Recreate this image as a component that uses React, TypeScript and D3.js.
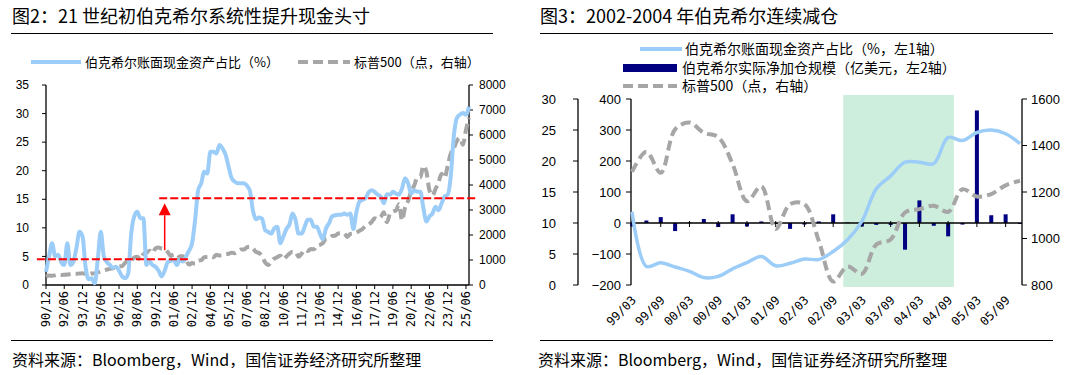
import React from "react";
import * as d3 from "d3";

// ---------- Figure 2 data (quarterly, 1990/12 .. 2025/09) ----------
const leftTickLabels = ["90/12","92/06","93/12","95/06","96/12","98/06","99/12","01/06","02/12","04/06","05/12","07/06","08/12","10/06","11/12","13/06","14/12","16/06","17/12","19/06","20/12","22/06","23/12","25/06"];
const brkCashRatio = [
  2.3,5.0,7.3,5.0,5.3,4.0,3.5,7.3,3.5,4.1,
  6.5,9.3,8.5,3.2,1.0,1.2,0.3,4.4,9.3,5.0,
  4.0,3.5,3.0,3.2,2.5,1.5,1.2,2.0,9.0,12.0,
  12.8,11.7,11.7,3.5,4.1,3.5,3.2,2.5,1.5,2.5,
  4.0,4.2,4.4,3.5,4.4,4.1,5.0,6.0,7.3,11.4,
  16.6,17.8,19.8,19.5,23.3,23.3,23.0,24.5,23.9,22.8,
  20.7,18.7,18.1,17.8,17.8,17.8,17.4,16.5,13.0,11.5,
  11.8,11.6,9.6,9.3,9.0,9.9,10.2,7.3,8.5,9.8,
  10.6,12.5,11.4,9.0,9.0,10.2,11.4,11.4,10.2,10.2,
  9.0,8.0,9.9,10.8,12.0,12.2,12.3,12.3,12.5,12.3,
  12.5,9.8,12.8,14.6,14.9,15.2,16.2,16.6,16.3,15.8,
  15.5,14.3,15.9,15.8,16.3,16.0,15.8,16.9,18.7,17.8,
  16.0,16.6,16.3,16.3,13.5,11.1,12.0,12.5,13.7,13.1,
  14.3,15.5,15.8,19.0,26.0,29.2,29.8,30.1,29.8,31.2
];
const spxQuarterly = [
  330.2,
  375.2,371.2,387.9,417.1, 403.7,408.1,417.8,435.7, 451.7,450.5,458.9,466.5, 445.8,444.3,462.7,459.3,
  500.7,544.8,584.4,615.9, 645.5,670.6,687.3,740.7, 757.1,885.1,947.3,970.4, 1101.8,1133.8,1017.0,1229.2,
  1286.4,1372.7,1282.7,1469.3, 1498.6,1454.6,1436.5,1320.3, 1160.3,1224.4,1040.9,1148.1, 1147.4,989.8,815.3,879.8,
  848.2,974.5,996.0,1111.9, 1126.2,1140.8,1114.6,1211.9, 1180.6,1191.3,1228.8,1248.3, 1294.8,1270.2,1335.9,1418.3,
  1420.9,1503.4,1526.8,1468.4, 1322.7,1280.0,1166.4,903.3, 797.9,919.3,1057.1,1115.1, 1169.4,1030.7,1141.2,1257.6,
  1325.8,1320.6,1131.4,1257.6, 1408.5,1362.2,1440.7,1426.2, 1569.2,1606.3,1681.6,1848.4, 1872.3,1960.2,1972.3,2058.9,
  2067.9,2063.1,1920.0,2043.9, 2059.7,2098.9,2168.3,2238.8, 2362.7,2423.4,2519.4,2673.6, 2640.9,2718.4,2914.0,2506.9,
  2834.4,2941.8,2976.7,3230.8, 2584.6,3100.3,3363.0,3756.1, 3972.9,4297.5,4307.5,4766.2, 4530.4,3785.4,3585.6,3839.5,
  4109.3,4450.4,4288.1,4769.8, 5254.4,5460.5,5762.5,5881.6, 5611.9,6204.9,6688.5
];
const leftYTicks = [0,5,10,15,20,25,30,35];
const rightYTicks = [0,1000,2000,3000,4000,5000,6000,7000,8000];
// red reference levels: [value, fromIndex, toIndex]
const refLevels = [4.5, 15.2];
const refFrom = [-3, 37.2];
const refTo = [47.4, 142];
const arrowIndex = 39;
const arrowFrom = 6.1;
const arrowTo = 14.3;

// ---------- Figure 3 data (quarterly, 1999/03 .. 2005/12) ----------
const rightTickLabels = ["99/03","99/09","00/03","00/09","01/03","01/09","02/03","02/09","03/03","03/09","04/03","04/09","05/03","05/09"];
const brkCashRatio2 = [11.8,3.0,3.6,2.9,2.2,1.2,1.4,2.6,3.6,4.6,3.1,3.5,4.2,4.1,5.4,7.3,10.3,15.5,17.6,19.8,19.8,19.6,23.8,23.3,24.6,25.0,24.4,22.8];
const netBuying = [-10,8,19,-26,2,13,-13,28,-11,5,-3,-19,-5,5,28,2,-11,-6,-6,-86,73,-9,-43,-5,363,25,28,-3];
const spx2 = [1286.4,1372.7,1282.7,1469.3,1498.6,1454.6,1436.5,1320.3,1160.3,1224.4,1040.9,1148.1,1147.4,989.8,815.3,879.8,848.2,974.5,996.0,1111.9,1126.2,1140.8,1114.6,1211.9,1180.6,1191.3,1228.8,1248.3];
const shadeSpan = [14.7, 22.4];
const axis1Ticks = [0,5,10,15,20,25,30];
const axis2Ticks = [-200,-100,0,100,200,300,400];
const axis3Ticks = [800,1000,1200,1400,1600];

const CJK = "'Noto Sans CJK SC', 'Liberation Sans', sans-serif";
const NUM = "'Liberation Sans', Arial, sans-serif";
const MONO = "'DejaVu Sans Mono', 'Noto Sans CJK SC', monospace";
const BLUE = "#9ccdf8";
const GREY = "#a6a6a6";
const NAVY = "#000080";

function LeftChart() {
  const n = brkCashRatio.length;
  const x = d3.scaleLinear().domain([0, n - 1]).range([46, 469]);
  const yL = d3.scaleLinear().domain([0, 35]).range([285, 85]);
  const yR = d3.scaleLinear().domain([0, 8000]).range([285, 85]);
  const cashLine = d3.line<number>().x((_, i) => x(i)).y((d) => yL(d)).curve(d3.curveMonotoneX);
  const spxLine = d3.line<number>().x((_, i) => x(i)).y((d) => yR(d)).curve(d3.curveMonotoneX);
  const ax = x(arrowIndex);
  const headBase = yL(arrowTo) + 12;
  return (
    <g>
      <text x={12} y={23} fontFamily={CJK} fontSize={18} fill="#000">图2：21 世纪初伯克希尔系统性提升现金头寸</text>
      <line x1={11} x2={493} y1={33.5} y2={33.5} stroke="#000" strokeWidth={1} />
      {/* legend */}
      <line x1={31} x2={81} y1={62} y2={62} stroke={BLUE} strokeWidth={4} />
      <text x={85} y={66.5} fontFamily={CJK} fontSize={13}>伯克希尔账面现金资产占比（%）</text>
      <line x1={298} x2={350} y1={62} y2={62} stroke={GREY} strokeWidth={4} strokeDasharray="10,5" />
      <text x={354} y={66.5} fontFamily={CJK} fontSize={13}>标普500（点，右轴）</text>

      {/* axes */}
      <line x1={46} x2={46} y1={85} y2={285} stroke="#000" strokeWidth={1.3} />
      {leftYTicks.map((t) => (
        <g key={"ly" + t}>
          <line x1={42} x2={46} y1={yL(t)} y2={yL(t)} stroke="#000" />
          <text x={29} y={yL(t)} dy="0.35em" textAnchor="end" fontFamily={NUM} fontSize={12}>{t}</text>
        </g>
      ))}
      <line x1={469} x2={469} y1={85} y2={285} stroke="#000" strokeWidth={1.3} />
      {rightYTicks.map((t) => (
        <g key={"ry" + t}>
          <line x1={469} x2={473} y1={yR(t)} y2={yR(t)} stroke="#000" />
          <text x={479} y={yR(t)} dy="0.35em" textAnchor="start" fontFamily={NUM} fontSize={12}>{t}</text>
        </g>
      ))}
      <line x1={46} x2={469} y1={285} y2={285} stroke="#000" strokeWidth={1.3} />
      {leftTickLabels.map((lab, k) => {
        const xi = x(k * 6);
        return (
          <g key={"lx" + lab}>
            <line x1={xi} x2={xi} y1={285} y2={289} stroke="#000" />
            <text transform={`translate(${xi},291) rotate(-90)`} dy="0.35em" textAnchor="end" fontFamily={MONO} fontSize={12}>{lab}</text>
          </g>
        );
      })}

      {/* series */}
      <path d={spxLine(spxQuarterly) || ""} fill="none" stroke={GREY} strokeWidth={4} strokeDasharray="10,5" />
      <path d={cashLine(brkCashRatio) || ""} fill="none" stroke={BLUE} strokeWidth={4} strokeLinejoin="round" />

      {/* reference lines */}
      {refLevels.map((v, i) => (
        <line key={"ref" + i} x1={x(refFrom[i])} x2={x(refTo[i])} y1={yL(v)} y2={yL(v)} stroke="#ff0000" strokeWidth={2} strokeDasharray="8,3" />
      ))}
      <line x1={ax} x2={ax} y1={yL(arrowFrom)} y2={headBase} stroke="#ff0000" strokeWidth={1.5} />
      <path d={`M${ax - 6},${headBase} L${ax + 6},${headBase} L${ax},${yL(arrowTo)} Z`} fill="#ff0000" />

      {/* footer */}
      <line x1={11} x2={493} y1={340.5} y2={340.5} stroke="#000" strokeWidth={1} />
      <text x={12} y={366} fontFamily={CJK} fontSize={16}>资料来源：Bloomberg，Wind，国信证券经济研究所整理</text>
    </g>
  );
}

function RightChart() {
  const n = netBuying.length;
  const x = d3.scaleLinear().domain([0, n - 1]).range([632, 1020]);
  const y1 = d3.scaleLinear().domain([0, 30]).range([285, 99]);
  const y2 = d3.scaleLinear().domain([-200, 400]).range([285, 99]);
  const y3 = d3.scaleLinear().domain([800, 1600]).range([285, 99]);
  const cashLine = d3.line<number>().x((_, i) => x(i)).y((d) => y1(d)).curve(d3.curveCatmullRom.alpha(0.5));
  const spxLine = d3.line<number>().x((_, i) => x(i)).y((d) => y3(d)).curve(d3.curveCatmullRom.alpha(0.5));
  const zero = y2(0);
  return (
    <g>
      <text x={540} y={23} fontFamily={CJK} fontSize={18} fill="#000">图3：2002-2004 年伯克希尔连续减仓</text>
      <line x1={540} x2={1053} y1={33.5} y2={33.5} stroke="#000" strokeWidth={1} />

      {/* legend */}
      <line x1={640} x2={682} y1={49} y2={49} stroke={BLUE} strokeWidth={4} />
      <text x={685} y={54} fontFamily={CJK} fontSize={14}>伯克希尔账面现金资产占比（%，左1轴）</text>
      <rect x={623} y={64} width={54} height={8} fill={NAVY} />
      <text x={682} y={73} fontFamily={CJK} fontSize={14}>伯克希尔实际净加仓规模（亿美元，左2轴）</text>
      <line x1={623} x2={677} y1={86} y2={86} stroke={GREY} strokeWidth={4} strokeDasharray="10,5" />
      <text x={682} y={91} fontFamily={CJK} fontSize={14}>标普500（点，右轴）</text>

      {/* shaded period */}
      <rect x={x(shadeSpan[0])} y={95} width={x(shadeSpan[1]) - x(shadeSpan[0])} height={192} fill="#cdeedc" />

      {/* axis 1 */}
      <line x1={578} x2={578} y1={99} y2={285} stroke="#000" strokeWidth={1.3} />
      {axis1Ticks.map((t) => (
        <g key={"a1" + t}>
          <line x1={573} x2={578} y1={y1(t)} y2={y1(t)} stroke="#000" />
          <text x={556} y={y1(t)} dy="0.35em" textAnchor="end" fontFamily={NUM} fontSize={13}>{t}</text>
        </g>
      ))}
      {/* axis 2 */}
      <line x1={631} x2={631} y1={99} y2={285} stroke="#000" strokeWidth={1.3} />
      {axis2Ticks.map((t) => (
        <g key={"a2" + t}>
          <line x1={626} x2={631} y1={y2(t)} y2={y2(t)} stroke="#000" />
          <text x={621} y={y2(t)} dy="0.35em" textAnchor="end" fontFamily={NUM} fontSize={13}>{t < 0 ? "\u2212" + Math.abs(t) : t}</text>
        </g>
      ))}
      {/* axis 3 */}
      <line x1={1022} x2={1022} y1={99} y2={285} stroke="#000" strokeWidth={1.3} />
      {axis3Ticks.map((t) => (
        <g key={"a3" + t}>
          <line x1={1022} x2={1027} y1={y3(t)} y2={y3(t)} stroke="#000" />
          <text x={1031} y={y3(t)} dy="0.35em" textAnchor="start" fontFamily={NUM} fontSize={13}>{t}</text>
        </g>
      ))}

      {/* bars */}
      {netBuying.map((v, i) => (
        <rect key={"b" + i} x={x(i) - 2} width={4} y={Math.min(y2(v), zero)} height={Math.abs(y2(v) - zero)} fill={NAVY} />
      ))}
      {/* zero/category axis */}
      <line x1={631} x2={1022} y1={zero} y2={zero} stroke="#000" strokeWidth={1.5} />
      {rightTickLabels.map((lab, k) => (
        <line key={"zt" + k} x1={x(k * 2)} x2={x(k * 2)} y1={zero - 2} y2={zero + 4} stroke="#000" />
      ))}

      {/* lines */}
      <path d={spxLine(spx2) || ""} fill="none" stroke={GREY} strokeWidth={4} strokeDasharray="10,5" />
      <path d={cashLine(brkCashRatio2) || ""} fill="none" stroke={BLUE} strokeWidth={3.5} strokeLinejoin="round" />

      {/* x labels */}
      {rightTickLabels.map((lab, k) => {
        const xi = x(k * 2);
        return (
          <text key={"rx" + lab} transform={`translate(${xi + 2},298) rotate(-45)`} dy="0.35em" textAnchor="end" fontFamily={MONO} fontSize={12}>{lab}</text>
        );
      })}

      {/* footer */}
      <line x1={540} x2={1053} y1={340.5} y2={340.5} stroke="#000" strokeWidth={1} />
      <text x={538} y={366} fontFamily={CJK} fontSize={16}>资料来源：Bloomberg，Wind，国信证券经济研究所整理</text>
    </g>
  );
}

export default function App() {
  return (
    <svg width={1080} height={375} viewBox="0 0 1080 375" style={{ position: "absolute", left: 0, top: 0, background: "#fff" }}>
      <rect x={0} y={0} width={1080} height={375} fill="#fff" />
      <LeftChart />
      <RightChart />
    </svg>
  );
}
